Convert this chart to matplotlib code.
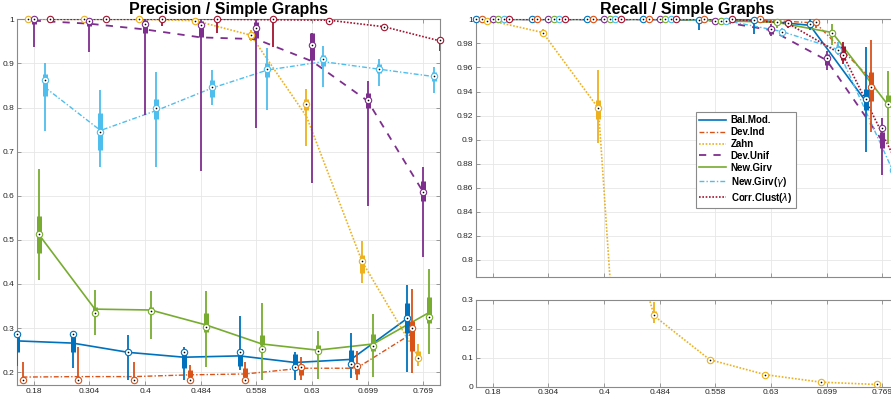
import numpy as np
import matplotlib
matplotlib.use("Agg")
import matplotlib.pyplot as plt

plt.rcParams['font.family'] = ['Liberation Sans', 'DejaVu Sans']

# ---------------- data ----------------
methods = ['Bal.Mod.', 'Dev.Ind', 'Zahn', 'Dev.Unif', 'New.Girv',
           'New.Girv($\\gamma$)', 'Corr.Clust($\\lambda$)']
xticklabels = ['0.18', '0.304', '0.4', '0.484', '0.558', '0.63', '0.699', '0.769']

# Precision (rows = methods, cols = 8 groups)
P_MEAN = [[0.271, 0.266, 0.245, 0.234, 0.237, 0.222, 0.229, 0.321],
          [0.189, 0.190, 0.190, 0.194, 0.196, 0.209, 0.209, 0.288],
          [1.000, 1.000, 1.000, 0.997, 0.964, 0.780, 0.451, 0.237],
          [0.997, 0.990, 0.977, 0.959, 0.955, 0.905, 0.815, 0.608],
          [0.511, 0.343, 0.341, 0.307, 0.264, 0.250, 0.264, 0.335],
          [0.846, 0.748, 0.793, 0.844, 0.885, 0.904, 0.887, 0.870],
          [1.000, 1.000, 1.000, 1.000, 0.999, 0.998, 0.983, 0.951]]
P_MED = [[0.286, 0.286, 0.245, 0.245, 0.245, 0.211, 0.219, 0.322],
         [0.183, 0.183, 0.183, 0.183, 0.183, 0.211, 0.213, 0.301],
         [1.000, 1.000, 1.000, 0.997, 0.965, 0.808, 0.451, 0.233],
         [1.000, 0.997, 0.990, 0.987, 0.981, 0.942, 0.817, 0.608],
         [0.513, 0.335, 0.338, 0.302, 0.253, 0.249, 0.260, 0.325],
         [0.863, 0.744, 0.798, 0.846, 0.888, 0.909, 0.887, 0.872],
         [1.000, 1.000, 1.000, 1.000, 1.000, 0.997, 0.983, 0.952]]
P_Q1 = [[0.245, 0.245, 0.243, 0.209, 0.213, 0.212, 0.221, 0.290],
        [0.183, 0.183, 0.183, 0.190, 0.190, 0.194, 0.196, 0.247],
        [1.000, 1.000, 1.000, 0.995, 0.957, 0.795, 0.426, 0.232],
        [0.990, 0.985, 0.970, 0.961, 0.957, 0.908, 0.799, 0.587],
        [0.471, 0.330, 0.334, 0.292, 0.262, 0.252, 0.247, 0.311],
        [0.826, 0.704, 0.774, 0.823, 0.870, 0.894, 0.879, 0.859],
        [1.000, 1.000, 1.000, 1.000, 0.997, 0.996, 0.981, 0.948]]
P_Q3 = [[0.285, 0.288, 0.248, 0.241, 0.241, 0.241, 0.251, 0.356],
        [0.190, 0.190, 0.190, 0.205, 0.209, 0.209, 0.209, 0.317],
        [1.000, 1.000, 1.000, 0.999, 0.972, 0.819, 0.466, 0.247],
        [1.000, 0.998, 0.998, 0.997, 0.995, 0.968, 0.834, 0.633],
        [0.553, 0.347, 0.347, 0.335, 0.285, 0.262, 0.287, 0.370],
        [0.876, 0.787, 0.819, 0.863, 0.900, 0.919, 0.899, 0.881],
        [1.000, 1.000, 1.000, 1.000, 1.000, 0.999, 0.985, 0.955]]
P_WLO = [[0.213, 0.210, 0.183, 0.183, 0.205, 0.183, 0.186, 0.201],
         [0.183, 0.183, 0.183, 0.183, 0.183, 0.183, 0.183, 0.198],
         [1.000, 1.000, 1.000, 0.990, 0.950, 0.712, 0.403, 0.214],
         [0.938, 0.925, 0.783, 0.657, 0.753, 0.629, 0.577, 0.461],
         [0.408, 0.285, 0.275, 0.211, 0.182, 0.185, 0.189, 0.241],
         [0.746, 0.666, 0.666, 0.806, 0.795, 0.846, 0.849, 0.832],
         [1.000, 0.993, 0.985, 0.968, 0.938, 0.993, 0.978, 0.929]]
P_WHI = [[0.292, 0.294, 0.285, 0.258, 0.328, 0.245, 0.288, 0.398],
         [0.223, 0.258, 0.223, 0.217, 0.223, 0.235, 0.249, 0.388],
         [1.000, 1.000, 1.000, 1.000, 0.975, 0.842, 0.498, 0.264],
         [1.000, 1.000, 1.000, 1.000, 1.000, 0.968, 0.860, 0.666],
         [0.660, 0.387, 0.383, 0.385, 0.356, 0.294, 0.332, 0.433],
         [0.900, 0.840, 0.881, 0.885, 0.934, 0.940, 0.909, 0.891],
         [1.000, 1.000, 1.000, 1.000, 1.000, 1.000, 0.987, 0.959]]

# Recall
R_MEAN = [[1.000, 1.000, 1.000, 1.000, 0.9995, 0.9995, 0.995, 0.932],
          [1.000, 1.000, 1.000, 1.000, 1.000, 0.9995, 0.997, 0.950],
          [0.9995, 0.989, 0.926, 0.245, 0.093, 0.041, 0.015, 0.007],
          [1.000, 1.000, 1.000, 1.000, 0.9988, 0.991, 0.966, 0.899],
          [1.000, 1.000, 1.000, 1.000, 0.9988, 0.9975, 0.989, 0.929],
          [1.000, 1.000, 1.000, 1.000, 0.9988, 0.9898, 0.975, 0.873],
          [1.000, 1.000, 1.000, 1.000, 1.000, 0.9967, 0.970, 0.877]]
R_MED = [[1.000, 1.000, 1.000, 1.000, 0.9995, 0.9995, 0.996, 0.9336],
         [1.000, 1.000, 1.000, 1.000, 1.000, 1.000, 0.9975, 0.9435],
         [0.9986, 0.989, 0.926, 0.248, 0.093, 0.041, 0.015, 0.007],
         [1.000, 1.000, 1.000, 1.000, 0.9988, 0.9917, 0.968, 0.9095],
         [1.000, 1.000, 1.000, 1.000, 0.9988, 0.9975, 0.989, 0.9294],
         [1.000, 1.000, 1.000, 1.000, 0.9988, 0.9898, 0.9745, 0.875],
         [1.000, 1.000, 1.000, 1.000, 1.000, 0.9967, 0.970, 0.880]]
R_Q1 = [[1.000, 1.000, 1.000, 1.000, 0.999, 0.999, 0.994, 0.925],
        [1.000, 1.000, 1.000, 1.000, 1.000, 0.999, 0.996, 0.932],
        [0.998, 0.988, 0.917, 0.245, 0.090, 0.038, 0.013, 0.005],
        [1.000, 1.000, 1.000, 1.000, 0.998, 0.988, 0.962, 0.893],
        [1.000, 1.000, 1.000, 1.000, 0.998, 0.996, 0.986, 0.927],
        [1.000, 1.000, 1.000, 1.000, 0.998, 0.988, 0.972, 0.866],
        [1.000, 1.000, 1.000, 1.000, 1.000, 0.995, 0.966, 0.870]]
R_Q3 = [[1.000, 1.000, 1.000, 1.000, 1.000, 1.000, 0.998, 0.942],
        [1.000, 1.000, 1.000, 1.000, 1.000, 1.000, 0.999, 0.956],
        [1.000, 0.990, 0.933, 0.262, 0.096, 0.044, 0.017, 0.009],
        [1.000, 1.000, 1.000, 1.000, 1.000, 0.994, 0.971, 0.906],
        [1.000, 1.000, 1.000, 1.000, 1.000, 0.999, 0.991, 0.937],
        [1.000, 1.000, 1.000, 1.000, 1.000, 0.992, 0.978, 0.885],
        [1.000, 1.000, 1.000, 1.000, 1.000, 0.998, 0.978, 0.890]]
R_WLO = [[1.000, 1.000, 1.000, 1.000, 0.991, 0.988, 0.991, 0.890],
         [1.000, 1.000, 1.000, 1.000, 1.000, 0.998, 0.993, 0.906],
         [0.997, 0.986, 0.897, 0.221, 0.087, 0.036, 0.011, 0.004],
         [1.000, 1.000, 1.000, 1.000, 0.997, 0.986, 0.958, 0.871],
         [1.000, 1.000, 1.000, 1.000, 0.995, 0.9925, 0.979, 0.896],
         [1.000, 1.000, 1.000, 1.000, 0.997, 0.985, 0.970, 0.853],
         [1.000, 1.000, 1.000, 1.000, 1.000, 0.993, 0.963, 0.855]]
R_WHI = [[1.000, 1.000, 1.000, 1.000, 1.000, 1.000, 1.000, 0.977],
         [1.000, 1.000, 1.000, 1.000, 1.000, 1.000, 1.000, 0.983],
         [1.000, 0.992, 0.958, 0.294, 0.099, 0.046, 0.019, 0.011],
         [1.000, 1.000, 1.000, 1.000, 1.000, 0.996, 0.974, 0.918],
         [1.000, 1.000, 1.000, 1.000, 1.000, 1.000, 0.996, 0.957],
         [1.000, 1.000, 1.000, 1.000, 1.000, 0.993, 0.981, 0.905],
         [1.000, 1.000, 1.000, 1.000, 1.000, 0.999, 0.981, 0.920]]

# ---------------- style ----------------
colors = ['#0072BD', '#D95319', '#EDB120', '#7E2F8E', '#77AC30', '#4DBEEE', '#A2142F']
styles = [dict(ls='-', lw=1.2),
          dict(ls=(0, (3.5, 1.5, 1, 1.5)), lw=1.0),
          dict(ls=(0, (1, 1)), lw=1.2),
          dict(ls=(0, (4, 4)), lw=1.3),
          dict(ls='-', lw=1.2),
          dict(ls=(0, (3.5, 1.5, 1, 1.5)), lw=1.0),
          dict(ls=(0, (1, 1)), lw=1.2)]

W, H = 891, 403
fig = plt.figure(figsize=(W / 100, H / 100), dpi=100)

def fx(px):
    return px / W

def fy(py):
    return 1 - py / H

axL = fig.add_axes([fx(17), fy(385), 423 / W, (385 - 19.3) / H])
axRT = fig.add_axes([fx(476), fy(277.3), 423 / W, (277.3 - 19.3) / H])
axRB = fig.add_axes([fx(476), fy(386.5), 423 / W, (386.5 - 300) / H])

groups = np.arange(len(xticklabels))
nm = len(methods)

def style_axes(ax, ylim, yticks, ylabels, xlabels=True):
    ax.set_xlim(-0.3, 7.3)
    ax.set_ylim(*ylim)
    ax.set_xticks(groups)
    ax.set_xticklabels(xticklabels if xlabels else [])
    ax.set_yticks(yticks)
    ax.set_yticklabels(ylabels)
    ax.grid(True, color='#e6e6e6', lw=0.6)
    ax.set_axisbelow(True)
    ax.tick_params(direction='in', length=3, width=0.6, top=True, right=True,
                   labelsize=6, colors='#8a8a8a', labelcolor='#262626', pad=2)
    for s in ax.spines.values():
        s.set_color('#8a8a8a')
        s.set_linewidth(0.8)

def draw_panel(ax, MEAN, MED, Q1, Q3, WLO, WHI, ylim):
    lines = []
    for k in range(nm):
        xs = groups + (k - 3) * 0.1
        c = colors[k]
        ln, = ax.plot(xs, MEAN[k], color=c, zorder=3, **styles[k])
        lines.append(ln)
        for g in range(len(groups)):
            x = xs[g]
            ax.plot([x, x], [WLO[k][g], WHI[k][g]], color=c, lw=1.3,
                    solid_capstyle='butt', zorder=4)
            ax.plot([x, x], [Q1[k][g], Q3[k][g]], color=c, lw=3.6,
                    solid_capstyle='butt', zorder=4)
            m = MED[k][g]
            if ylim[0] <= m <= ylim[1] + 1e-9:
                ax.plot([x], [m], marker='o', ms=4.6, mfc='white',
                        mec=c, mew=0.8, alpha=1, zorder=5, clip_on=False)
                ax.plot([x], [m], marker='o', ms=1.2, color='k', mew=0,
                        zorder=6, clip_on=False)
    return lines

# left: precision
ylimL = (0.171, 1.0)
draw_panel(axL, P_MEAN, P_MED, P_Q1, P_Q3, P_WLO, P_WHI, ylimL)
yt = [0.2, 0.3, 0.4, 0.5, 0.6, 0.7, 0.8, 0.9, 1.0]
style_axes(axL, ylimL, yt, ['0.2', '0.3', '0.4', '0.5', '0.6', '0.7', '0.8', '0.9', '1'])
axL.set_title('Precision / Simple Graphs', fontsize=11.5, fontweight='bold', pad=4)

# right: recall (broken axis)
ylimRT = (0.7856, 1.0)
lines = draw_panel(axRT, R_MEAN, R_MED, R_Q1, R_Q3, R_WLO, R_WHI, ylimRT)
ytr = [0.8, 0.82, 0.84, 0.86, 0.88, 0.9, 0.92, 0.94, 0.96, 0.98, 1.0]
style_axes(axRT, ylimRT, ytr,
           ['0.8', '0.82', '0.84', '0.86', '0.88', '0.9', '0.92', '0.94', '0.96', '0.98', '1'],
           xlabels=False)
axRT.set_title('Recall / Simple Graphs', fontsize=11.5, fontweight='bold', pad=4)

ylimRB = (0.0, 0.3)
draw_panel(axRB, R_MEAN, R_MED, R_Q1, R_Q3, R_WLO, R_WHI, ylimRB)
style_axes(axRB, ylimRB, [0, 0.1, 0.2, 0.3], ['0', '0.1', '0.2', '0.3'])

leg = axRT.legend(lines, methods, loc='upper left', bbox_to_anchor=(0.519, 0.642),
                  borderaxespad=0, fancybox=False, framealpha=1, edgecolor='#8a8a8a',
                  prop=dict(size=7, weight='bold'), handlelength=2.8,
                  handletextpad=0.45, labelspacing=0.2, borderpad=0.35)
leg.get_frame().set_linewidth(0.8)

fig.savefig('out.png', dpi=100)
